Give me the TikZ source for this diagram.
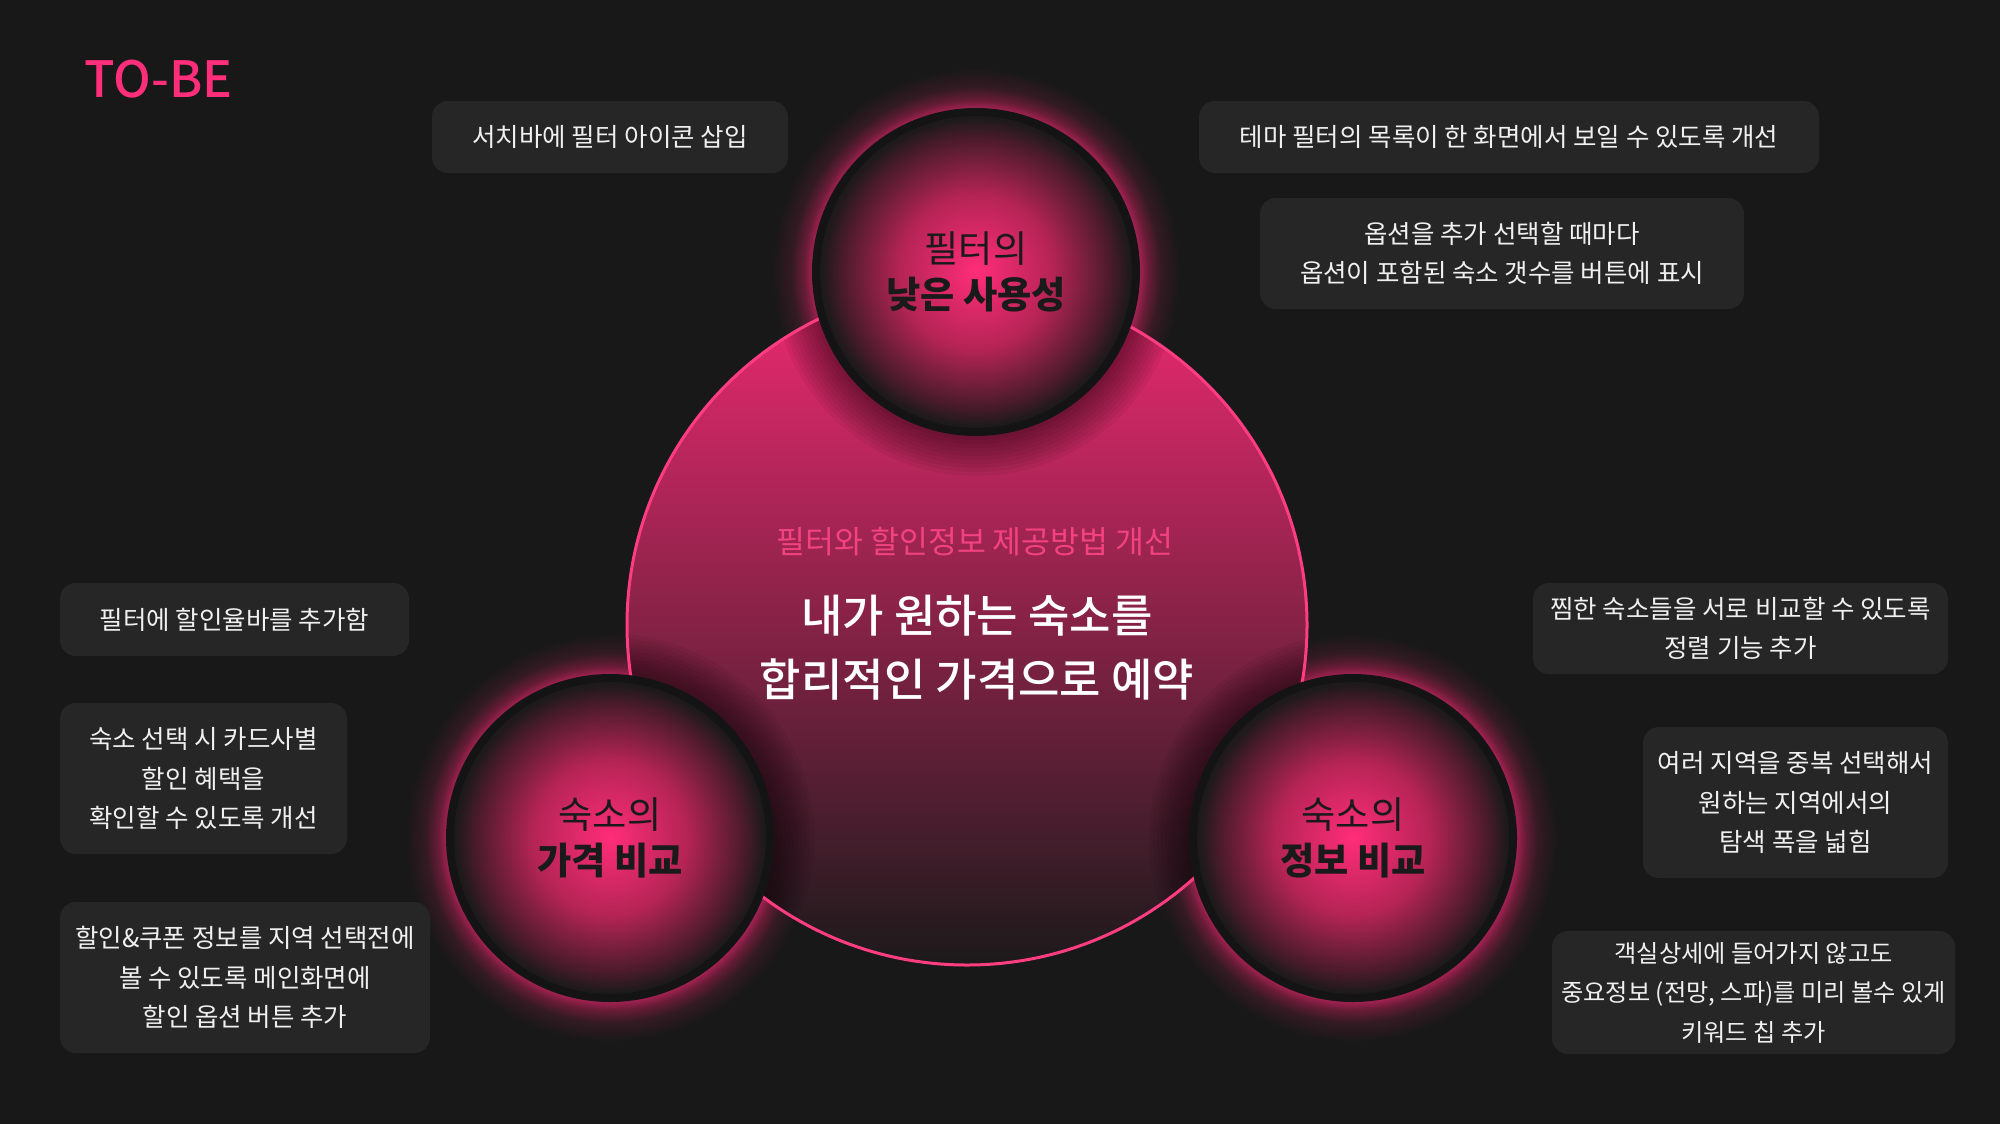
\documentclass[tikz,border=0pt]{standalone}
\usepackage{fontspec}
\setmainfont{Noto Sans CJK KR}
\newfontfamily\mediumfont{Noto Sans CJK KR Medium}

% 颜色
\definecolor{bgc}{HTML}{181818}
\definecolor{boxc}{HTML}{262626}
\definecolor{hotpink}{HTML}{FF2E7A}
\definecolor{subpink}{HTML}{F2427F}
\definecolor{rimpink}{HTML}{FF3D80}
\definecolor{bigtop}{HTML}{EE2A70}
\definecolor{bigmid}{HTML}{8E2249}
\definecolor{bigbot}{HTML}{1C1A1B}
\definecolor{spotA}{HTML}{FF2D78}
\definecolor{spotB}{HTML}{B52455}
\definecolor{spotC}{HTML}{4A1B2A}
\definecolor{spotD}{HTML}{1E1A1C}
\definecolor{ringc}{HTML}{141414}
\definecolor{glowA}{HTML}{A02150}
\definecolor{glowB}{HTML}{681C36}
\definecolor{glowC}{HTML}{341A23}
\definecolor{inkc}{HTML}{1A1A1A}
\definecolor{txtc}{HTML}{F0F0F0}

% 渐变
\pgfdeclareradialshading{spotshade}{\pgfpoint{0bp}{0bp}}{color(0bp)=(spotA); color(12bp)=(spotB); color(21bp)=(spotC); color(24bp)=(spotD); color(25bp)=(spotD); color(50bp)=(spotD)}
\pgfdeclareradialshading{glowring}{\pgfpoint{0bp}{0bp}}{color(0bp)=(bgc); color(18bp)=(glowA); color(18.3bp)=(glowA); color(19.2bp)=(glowB); color(20.6bp)=(glowC); color(22.8bp)=(bgc); color(25bp)=(bgc); color(50bp)=(bgc)}

\begin{document}
\begin{tikzpicture}[x=0.5pt, y=-0.5pt,
    box/.style={fill=boxc, rounded corners=8pt, text=txtc, align=center,
                inner sep=0pt, font=\fontsize{12.75}{19.75}\selectfont},
    spotlabel/.style={text=inkc, align=center, font=\fontsize{18.6}{23}\selectfont}]
  % 背景
  \fill[bgc] (0,0) rectangle (2000,1124);
  \useasboundingbox (0,0) rectangle (2000,1124);

  % 圆心
  \coordinate (hub) at (967,625);
  \coordinate (topc) at (976,272);
  \coordinate (leftc) at (610,838);
  \coordinate (rightc) at (1353,838);

  % 外发光
  \foreach \c in {topc,leftc,rightc}
    \shade[shading=glowring] (\c) circle[radius=112pt];

  % 大圆
  \shade[top color=bigtop, middle color=bigmid, bottom color=bigbot] (hub) circle[radius=170pt];
  \begin{scope}
    \clip (hub) circle[radius=170pt];
    \foreach \c in {topc,leftc,rightc}
      \foreach \k in {1,...,10}
        \fill[black, opacity=0.05] (\c) circle[radius=82pt+\k*2pt];
  \end{scope}
  \draw[rimpink, line width=1.5pt] (hub) circle[radius=170pt];

  % 小圆
  \foreach \c in {topc,leftc,rightc}{
    \shade[shading=spotshade] (\c) circle[radius=80pt];
    \draw[ringc, line width=4pt] (\c) circle[radius=80pt];
  }

  % 圆内文字
  \node[spotlabel] (usability) at (topc) {필터의\\\textbf{낮은 사용성}};
  \node[spotlabel] (price) at (leftc) {숙소의\\\textbf{가격 비교}};
  \node[spotlabel] (info) at (rightc) {숙소의\\\textbf{정보 비교}};
  \node[text=subpink, font=\fontsize{15.7}{18}\selectfont] (goal) at (975,542) {필터와 할인정보 제공방법 개선};
  \node[text=white, align=center, font=\fontsize{22.5}{32}\selectfont\mediumfont] (mission) at (977,648)
    {내가 원하는 숙소를\\합리적인 가격으로 예약};

  % 标题
  \node[anchor=west, inner sep=0pt, text=hotpink, font=\fontsize{25}{29}\selectfont\mediumfont] (tobe) at (84,79) {TO-BE};

  % 说明框
  \node[box, minimum width=178pt, minimum height=36pt] (search) at (610,137) {서치바에 필터 아이콘 삽입};
  \node[box, minimum width=310pt, minimum height=36pt] (theme) at (1509,137) {테마 필터의 목록이 한 화면에서 보일 수 있도록 개선};
  \node[box, minimum width=242pt, minimum height=55.5pt] (option) at (1502,253.5)
    {옵션을 추가 선택할 때마다\\옵션이 포함된 숙소 갯수를 버튼에 표시};
  \node[box, minimum width=174.5pt, minimum height=36.5pt] (ratebar) at (234.5,619.5) {필터에 할인율바를 추가함};
  \node[box, minimum width=143.5pt, minimum height=75.5pt] (card) at (203.5,778.5)
    {숙소 선택 시 카드사별\\할인 혜택을\\확인할 수 있도록 개선};
  \node[box, minimum width=185pt, minimum height=75.5pt] (coupon) at (245,977.5)
    {할인\&쿠폰 정보를 지역 선택전에\\볼 수 있도록 메인화면에\\할인 옵션 버튼 추가};
  \node[box, minimum width=207.5pt, minimum height=45.5pt] (wish) at (1740.5,628.5)
    {찜한 숙소들을 서로 비교할 수 있도록\\정렬 기능 추가};
  \node[box, minimum width=152.5pt, minimum height=75.5pt] (region) at (1795.5,802.5)
    {여러 지역을 중복 선택해서\\원하는 지역에서의\\탐색 폭을 넓힘};
  \node[box, minimum width=201.5pt, minimum height=61.5pt, font=\fontsize{12.1}{19.75}\selectfont] (room) at (1753.5,992.5)
    {객실상세에 들어가지 않고도\\중요정보 (전망, 스파)를 미리 볼수 있게\\키워드 칩 추가};
\end{tikzpicture}
\end{document}
